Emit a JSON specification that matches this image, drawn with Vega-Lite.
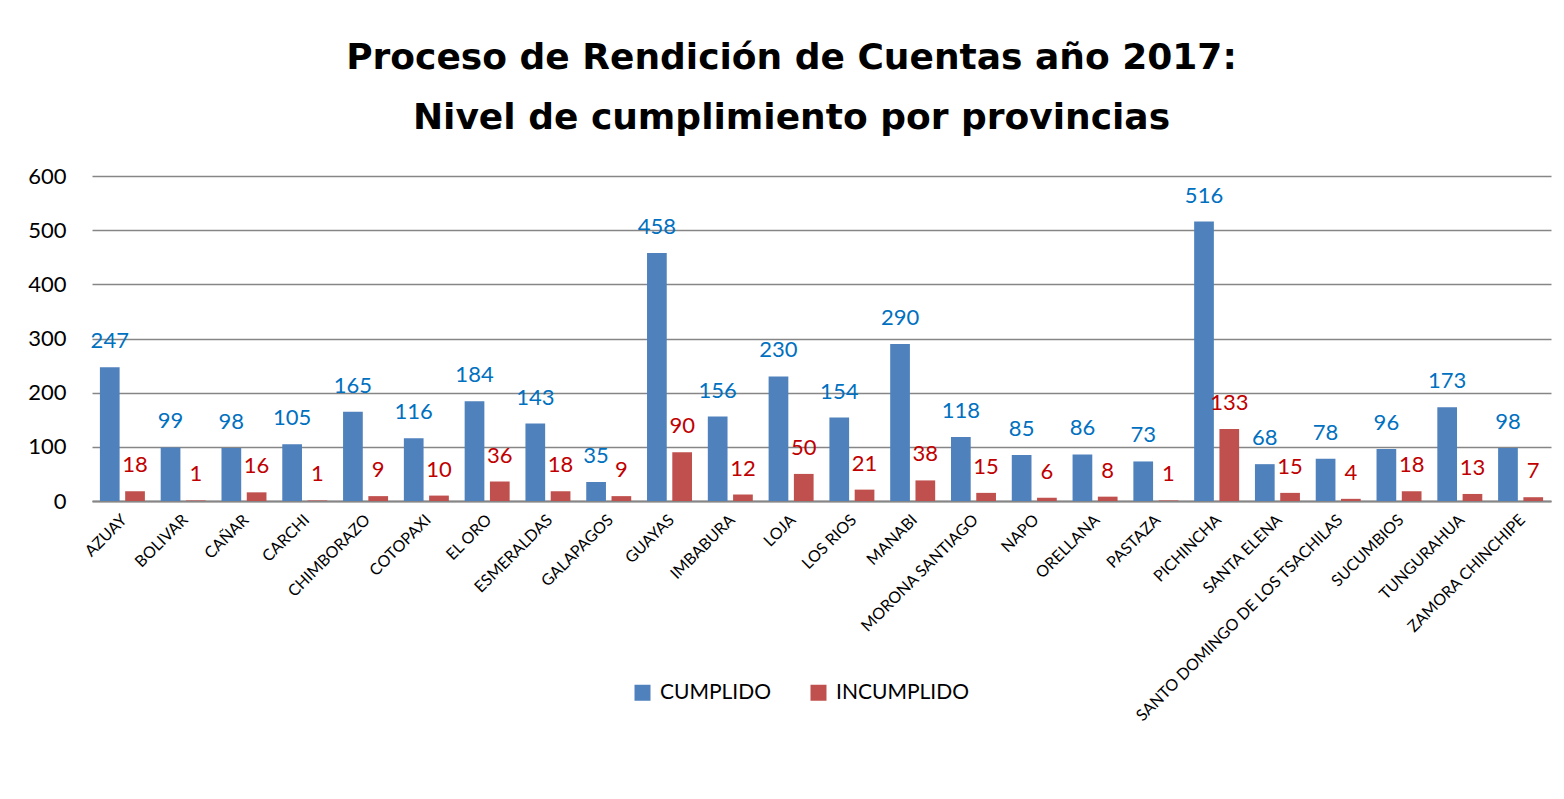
{
  "$schema": "https://vega.github.io/schema/vega-lite/v6.json",
  "width": 1459,
  "height": 325,
  "autosize": {"type": "none"},
  "padding": {"left": 92, "top": 176, "right": 13, "bottom": 298},
  "background": "white",
  "title": {
    "text": ["Proceso de Rendición de Cuentas año 2017:", "Nivel de cumplimiento por provincias"],
    "font": "DejaVu Sans",
    "fontSize": 36,
    "fontWeight": "bold",
    "color": "#000000",
    "lineHeight": 60,
    "anchor": "middle",
    "dx": -30,
    "offset": 28
  },
  "config": {
    "font": "Lato",
    "view": {"stroke": null}
  },
  "data": {
    "values": [
      {"provincia": "AZUAY", "serie": "CUMPLIDO", "valor": 247},
      {"provincia": "AZUAY", "serie": "INCUMPLIDO", "valor": 18},
      {"provincia": "BOLIVAR", "serie": "CUMPLIDO", "valor": 99},
      {"provincia": "BOLIVAR", "serie": "INCUMPLIDO", "valor": 1},
      {"provincia": "CAÑAR", "serie": "CUMPLIDO", "valor": 98},
      {"provincia": "CAÑAR", "serie": "INCUMPLIDO", "valor": 16},
      {"provincia": "CARCHI", "serie": "CUMPLIDO", "valor": 105},
      {"provincia": "CARCHI", "serie": "INCUMPLIDO", "valor": 1},
      {"provincia": "CHIMBORAZO", "serie": "CUMPLIDO", "valor": 165},
      {"provincia": "CHIMBORAZO", "serie": "INCUMPLIDO", "valor": 9},
      {"provincia": "COTOPAXI", "serie": "CUMPLIDO", "valor": 116},
      {"provincia": "COTOPAXI", "serie": "INCUMPLIDO", "valor": 10},
      {"provincia": "EL ORO", "serie": "CUMPLIDO", "valor": 184},
      {"provincia": "EL ORO", "serie": "INCUMPLIDO", "valor": 36},
      {"provincia": "ESMERALDAS", "serie": "CUMPLIDO", "valor": 143},
      {"provincia": "ESMERALDAS", "serie": "INCUMPLIDO", "valor": 18},
      {"provincia": "GALAPAGOS", "serie": "CUMPLIDO", "valor": 35},
      {"provincia": "GALAPAGOS", "serie": "INCUMPLIDO", "valor": 9},
      {"provincia": "GUAYAS", "serie": "CUMPLIDO", "valor": 458},
      {"provincia": "GUAYAS", "serie": "INCUMPLIDO", "valor": 90},
      {"provincia": "IMBABURA", "serie": "CUMPLIDO", "valor": 156},
      {"provincia": "IMBABURA", "serie": "INCUMPLIDO", "valor": 12},
      {"provincia": "LOJA", "serie": "CUMPLIDO", "valor": 230},
      {"provincia": "LOJA", "serie": "INCUMPLIDO", "valor": 50},
      {"provincia": "LOS RIOS", "serie": "CUMPLIDO", "valor": 154},
      {"provincia": "LOS RIOS", "serie": "INCUMPLIDO", "valor": 21},
      {"provincia": "MANABI", "serie": "CUMPLIDO", "valor": 290},
      {"provincia": "MANABI", "serie": "INCUMPLIDO", "valor": 38},
      {"provincia": "MORONA SANTIAGO", "serie": "CUMPLIDO", "valor": 118},
      {"provincia": "MORONA SANTIAGO", "serie": "INCUMPLIDO", "valor": 15},
      {"provincia": "NAPO", "serie": "CUMPLIDO", "valor": 85},
      {"provincia": "NAPO", "serie": "INCUMPLIDO", "valor": 6},
      {"provincia": "ORELLANA", "serie": "CUMPLIDO", "valor": 86},
      {"provincia": "ORELLANA", "serie": "INCUMPLIDO", "valor": 8},
      {"provincia": "PASTAZA", "serie": "CUMPLIDO", "valor": 73},
      {"provincia": "PASTAZA", "serie": "INCUMPLIDO", "valor": 1},
      {"provincia": "PICHINCHA", "serie": "CUMPLIDO", "valor": 516},
      {"provincia": "PICHINCHA", "serie": "INCUMPLIDO", "valor": 133},
      {"provincia": "SANTA ELENA", "serie": "CUMPLIDO", "valor": 68},
      {"provincia": "SANTA ELENA", "serie": "INCUMPLIDO", "valor": 15},
      {"provincia": "SANTO DOMINGO DE LOS TSACHILAS", "serie": "CUMPLIDO", "valor": 78},
      {"provincia": "SANTO DOMINGO DE LOS TSACHILAS", "serie": "INCUMPLIDO", "valor": 4},
      {"provincia": "SUCUMBIOS", "serie": "CUMPLIDO", "valor": 96},
      {"provincia": "SUCUMBIOS", "serie": "INCUMPLIDO", "valor": 18},
      {"provincia": "TUNGURAHUA", "serie": "CUMPLIDO", "valor": 173},
      {"provincia": "TUNGURAHUA", "serie": "INCUMPLIDO", "valor": 13},
      {"provincia": "ZAMORA CHINCHIPE", "serie": "CUMPLIDO", "valor": 98},
      {"provincia": "ZAMORA CHINCHIPE", "serie": "INCUMPLIDO", "valor": 7}
    ]
  },
  "encoding": {
    "x": {
      "field": "provincia",
      "type": "nominal",
      "sort": null,
      "scale": {"paddingInner": 0.26, "paddingOuter": 0.13},
      "axis": {
        "title": null,
        "labelAngle": -45,
        "labelAlign": "right",
        "labelBaseline": "middle",
        "labelFont": "Lato",
        "labelFontSize": 16,
        "labelColor": "#000000",
        "labelPadding": 16,
        "labelOffset": 2,
        "ticks": false,
        "domain": true,
        "domainColor": "#868686",
        "domainWidth": 2,
        "grid": false,
        "labelOverlap": false,
        "labelLimit": 0
      }
    },
    "xOffset": {
      "field": "serie",
      "type": "nominal",
      "scale": {"paddingInner": 0.22}
    },
    "y": {
      "field": "valor",
      "type": "quantitative",
      "scale": {"domain": [0, 600], "nice": false},
      "axis": {
        "title": null,
        "values": [0, 100, 200, 300, 400, 500, 600],
        "labelFont": "Lato",
        "labelFontSize": 22,
        "labelColor": "#000000",
        "labelPadding": 26,
        "ticks": false,
        "domain": false,
        "grid": true,
        "gridColor": "#868686",
        "gridWidth": 1.5
      }
    }
  },
  "layer": [
    {
      "mark": {"type": "bar"},
      "encoding": {
        "color": {
          "field": "serie",
          "type": "nominal",
          "scale": {"domain": ["CUMPLIDO", "INCUMPLIDO"], "range": ["#4F81BD", "#C0504D"]},
          "legend": {
            "title": null,
            "orient": "none",
            "direction": "horizontal",
            "legendX": 540,
            "legendY": 506,
            "symbolType": "square",
            "symbolSize": 256,
            "symbolStrokeWidth": 0,
            "labelFont": "Lato",
            "labelFontSize": 21,
            "labelColor": "#000000",
            "labelOffset": 7,
            "columnPadding": 36,
            "padding": 0
          }
        }
      }
    },
    {
      "mark": {"type": "text", "baseline": "alphabetic", "dy": -19, "fontSize": 22, "font": "Lato"},
      "encoding": {
        "text": {"field": "valor", "type": "quantitative"},
        "color": {
          "condition": {"test": "datum.serie === 'CUMPLIDO'", "value": "#0070C0"},
          "value": "#C00000"
        }
      }
    }
  ]
}
